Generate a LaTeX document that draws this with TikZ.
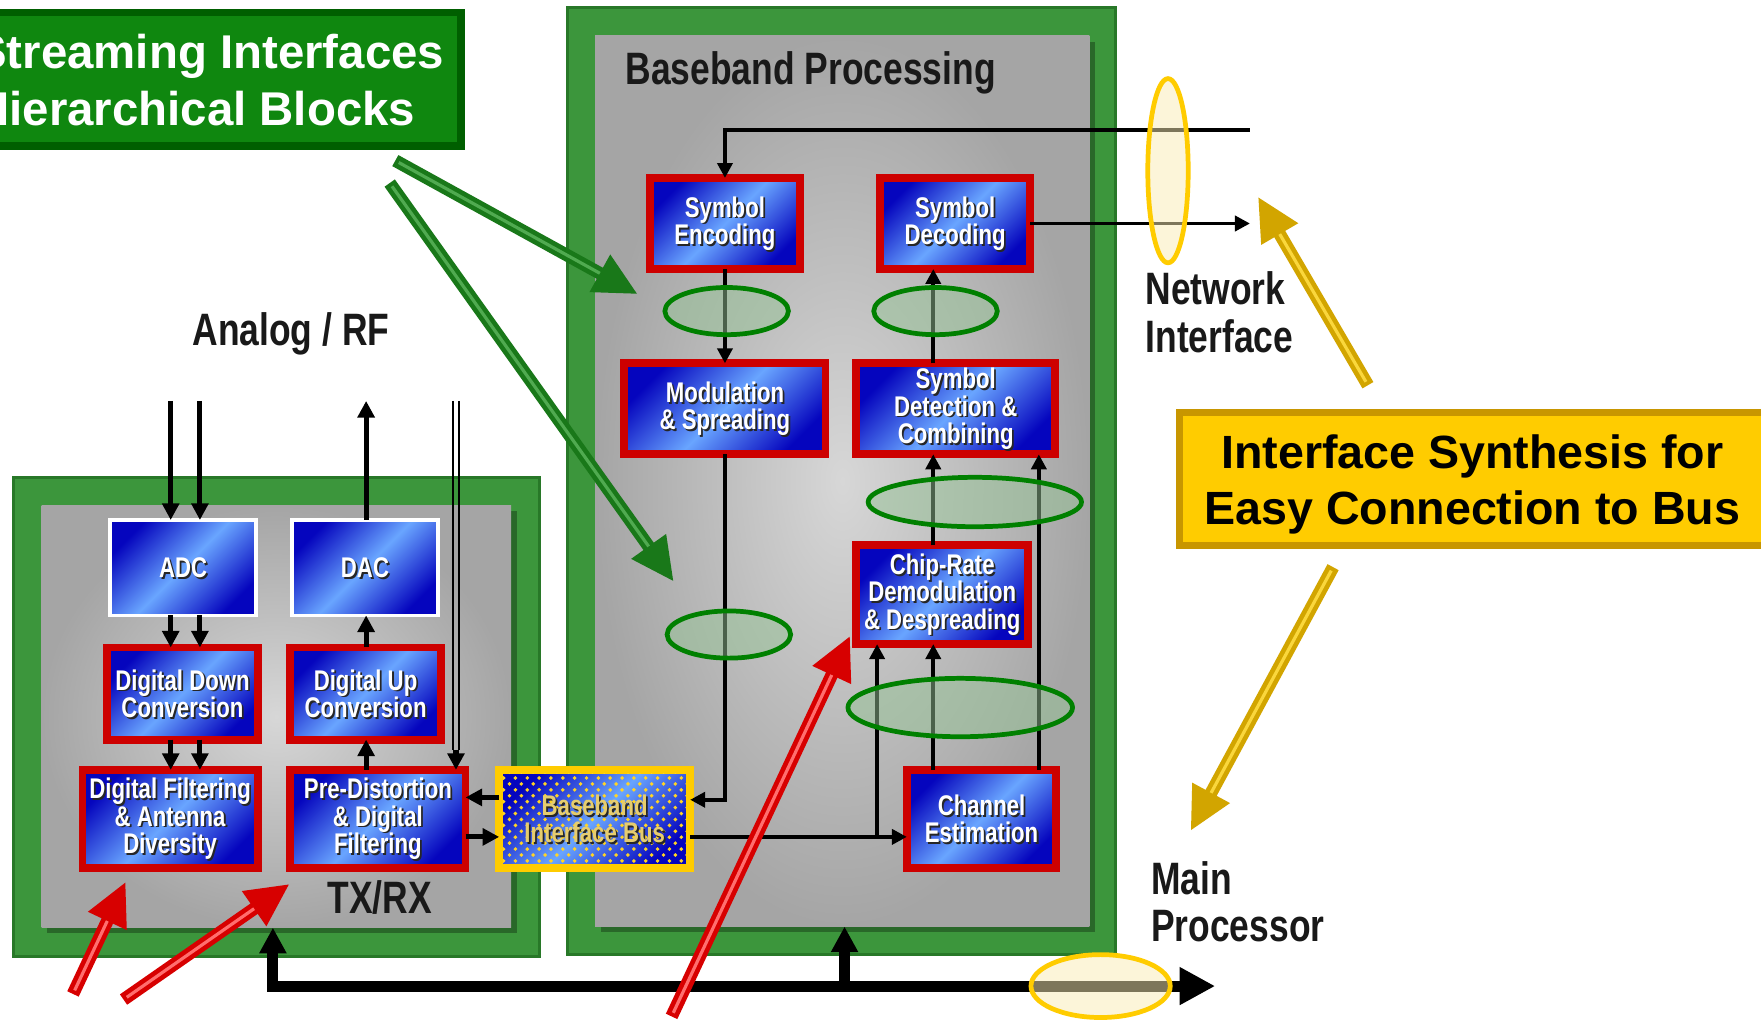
\documentclass[tikz,border=0pt]{standalone}
\usepackage{fontspec}
\setmainfont{Liberation Sans}
\newfontfamily\narrowsans{Liberation Sans}[FakeStretch=0.78]
\usetikzlibrary{arrows.meta,patterns}

\newlength\pxu
\setlength\pxu{0.01cm}

\definecolor{bDark}{RGB}{5,5,190}
\definecolor{bLight}{RGB}{105,165,255}
\definecolor{frameRed}{RGB}{205,0,0}
\definecolor{frameGreen}{RGB}{60,150,60}
\definecolor{frameGreenDark}{RGB}{40,120,40}
\definecolor{panelLight}{RGB}{215,215,215}
\definecolor{panelDark}{RGB}{165,165,165}
\definecolor{ovalGreen}{RGB}{0,128,0}
\definecolor{ovalFill}{RGB}{150,195,150}
\definecolor{busYellow}{RGB}{255,204,0}
\definecolor{ovalYellowFill}{RGB}{250,236,180}
\definecolor{titleGreen}{RGB}{15,135,15}
\definecolor{titleEdge}{RGB}{0,95,0}
\definecolor{noteYellow}{RGB}{255,204,0}
\definecolor{noteEdge}{RGB}{200,150,0}
\definecolor{arrowRed}{RGB}{215,0,0}
\definecolor{arrowRedLight}{RGB}{255,110,110}
\definecolor{arrowGreen}{RGB}{25,120,25}
\definecolor{arrowGreenLight}{RGB}{80,170,80}
\definecolor{arrowGold}{RGB}{210,165,0}
\definecolor{arrowGoldLight}{RGB}{250,215,60}
\definecolor{busText}{RGB}{230,205,110}

\tikzset{
  every node/.style={inner sep=0pt, outer sep=0pt},
  frame/.style={fill=frameGreen, draw=frameGreenDark, line width=0.8pt},
  panel/.style={inner color=panelLight, outer color=panelDark},
  blueshade/.style={top color=bDark, bottom color=bDark, middle color=bLight, shading angle=45},
  redblock/.style={blueshade, draw=frameRed, line width=2pt},
  whiteblock/.style={blueshade, draw=white, line width=0.8pt},
  busblock/.style={blueshade, draw=busYellow, line width=2pt},
  blocktext/.style={font=\narrowsans\bfseries\fontsize{7.2}{6.9}\selectfont, align=center},
  biglabel/.style={font=\narrowsans\bfseries\fontsize{11.5}{12}\selectfont, text=black!90},
  txarrow/.style={line width=1.3pt, -{Triangle[length=4.2pt,width=4.2pt]}},
  bbarrow/.style={line width=1pt, -{Triangle[length=3.8pt,width=3.8pt]}},
  thinline/.style={line width=0.55pt},
  bus/.style={line width=2.8pt},
  greenoval/.style={draw=ovalGreen, line width=1.2pt, fill=ovalFill, fill opacity=0.5},
  yellowoval/.style={draw=busYellow, line width=1.2pt, fill=ovalYellowFill, fill opacity=0.5},
}

% block: style, name, x, y, width, height, text
\newcommand\block[7]{%
  \node[#1, minimum width=#5*\pxu, minimum height=#6*\pxu] (#2) at (#3,#4) {};
  \node[blocktext, text=black!85, xshift=0.45pt, yshift=-0.45pt] at (#2.center) {#7};
  \node[blocktext, text=white] (#2-label) at (#2.center) {#7};
}

% shaded annotation arrow: dark colour, light colour, start, end
\newcommand\fatarrow[4]{%
  \draw[line width=3.2pt, draw=#1, -{Triangle[length=11pt,width=10pt]}] (#3) -- (#4);
  \draw[line width=0.8pt, draw=#2, shorten >=11pt, shorten <=1pt] (#3) -- (#4);
}

\begin{document}
\begin{tikzpicture}[x=0.01cm, y=-0.01cm]
\clip (0,0) rectangle (1568,909);
\fill[white] (0,0) rectangle (1568,909);

% ---- TX/RX subsystem ----
\node[frame, minimum width=468*\pxu, minimum height=427*\pxu] (TX) at (246,638.5) {};
\fill[black, opacity=0.3] (42,455) rectangle (460,831);
\node[panel, minimum width=418*\pxu, minimum height=376*\pxu] (TXin) at (246,638) {};

% ---- Baseband subsystem ----
\node[frame, minimum width=488*\pxu, minimum height=843*\pxu] (BB) at (749,428.5) {};
\fill[black, opacity=0.3] (535,37) rectangle (975,830);
\node[panel, minimum width=440*\pxu, minimum height=793*\pxu] (BBin) at (750,428.5) {};

% ---- labels ----
\node[biglabel, anchor=base west] (bbtitle) at (557,75) {Baseband Processing};
\node[biglabel, anchor=base] (analog) at (259,308) {Analog / RF};
\node[biglabel, anchor=base] (txrx) at (338,813) {TX/RX};
\node[biglabel, anchor=north west, align=left] (netlabel) at (1020,242) {Network\\Interface};
\node[biglabel, anchor=north west, align=left] (mainlabel) at (1025,767) {Main\\Processor};

% ---- blocks ----
\block{whiteblock}{ADC}{163}{505.5}{130}{85}{ADC}
\block{whiteblock}{DAC}{325}{505.5}{130}{85}{DAC}
\block{redblock}{DDC}{162.5}{617.5}{134}{82}{Digital Down\\Conversion}
\block{redblock}{DUC}{325.5}{617.5}{134}{82}{Digital Up\\Conversion}
\block{redblock}{DFA}{151.5}{729}{156}{87}{Digital Filtering\\\& Antenna\\Diversity}
\block{redblock}{PDF}{336.5}{729}{156}{87}{Pre-Distortion\\\& Digital\\Filtering}
\block{redblock}{SE}{645.5}{199}{134}{81}{Symbol\\Encoding}
\block{redblock}{SD}{850.5}{199}{134}{81}{Symbol\\Decoding}
\block{redblock}{MS}{645.5}{364}{179}{81}{Modulation\\\& Spreading}
\block{redblock}{SDC}{851}{364}{177}{81}{Symbol\\Detection \&\\Combining}
\block{redblock}{CRD}{839}{529.5}{153}{88}{Chip-Rate\\Demodulation\\\& Despreading}
\block{redblock}{CE}{874}{729}{133}{87}{Channel\\Estimation}

\node[busblock, minimum width=170*\pxu, minimum height=87*\pxu] (BIB) at (529.5,729) {};
\fill[pattern=crosshatch dots, pattern color=busYellow!85!white]
  ([shift={(1pt,-1pt)}]BIB.north west) rectangle ([shift={(-1pt,1pt)}]BIB.south east);
\node[blocktext, text=black!85, xshift=0.45pt, yshift=-0.45pt] at (BIB.center) {Baseband\\Interface Bus};
\node[blocktext, text=busText] (BIB-label) at (BIB.center) {Baseband\\Interface Bus};

% ---- connector end points ----
\coordinate (rfin1) at (152,357);
\coordinate (rfin2) at (178,357);
\coordinate (rfout) at (326,357);
\coordinate (rfd1) at (403,357);
\coordinate (rfd2) at (409,357);
\coordinate (dlend) at (406,668);
\coordinate (netin) at (1113,116);
\coordinate (netout) at (1113,204);
\coordinate (xa) at (831,0);
\coordinate (xb) at (925,0);
\coordinate (xc) at (781,0);
\coordinate (xl1) at (152,0);
\coordinate (xl2) at (178,0);
\coordinate (xr) at (326,0);
\coordinate (buscorner) at (243,878);
\coordinate (busend) at (1082,878);
\coordinate (busx2) at (752,0);

% ---- TX/RX connections ----
\draw[txarrow] (rfin1) -- (ADC.north -| rfin1);
\draw[txarrow] (rfin2) -- (ADC.north -| rfin2);
\draw[txarrow] (DAC.north -| rfout) -- (rfout);
\draw[thinline] (rfd1) -- (rfd1 |- dlend);
\draw[thinline] (rfd2) -- (rfd2 |- dlend);
\draw[txarrow] (dlend) -- (PDF.north -| dlend);
\draw[txarrow] (ADC.south -| xl1) -- (DDC.north -| xl1);
\draw[txarrow] (ADC.south -| xl2) -- (DDC.north -| xl2);
\draw[txarrow] (DUC.north -| xr) -- (DAC.south -| xr);
\draw[txarrow] (DDC.south -| xl1) -- (DFA.north -| xl1);
\draw[txarrow] (DDC.south -| xl2) -- (DFA.north -| xl2);
\draw[txarrow] (PDF.north -| xr) -- (DUC.south -| xr);
\coordinate (bibup) at ([yshift=5.4pt]BIB.west);
\coordinate (bibdn) at ([yshift=-4.6pt]BIB.west);
\draw[txarrow] (bibup) -- (bibup -| PDF.east);
\draw[txarrow] (bibdn -| PDF.east) -- (bibdn);

% ---- baseband connections ----
\draw[bbarrow] (netin) -| (SE.north);
\draw[bbarrow] (SD.east) -- (SD.east -| netout);
\draw[bbarrow] (SE.south) -- (SE.south |- MS.north);
\draw[bbarrow] (SDC.north -| xa) -- (SD.south -| xa);
\coordinate (bibin) at ([yshift=4.8pt]BIB.east);
\coordinate (bibout) at ([yshift=-4.6pt]BIB.east);
\draw[bbarrow] (MS.south) |- (bibin);
\draw[bbarrow] (bibout) -- (bibout -| CE.west);
\draw[bbarrow] (bibout -| xc) -- (CRD.south -| xc);
\draw[bbarrow] (CE.north -| xa) -- (CRD.south -| xa);
\draw[bbarrow] (CE.north -| xb) -- (SDC.south -| xb);
\draw[bbarrow] (CRD.north -| xa) -- (SDC.south -| xa);

% ---- streaming interface ovals ----
\draw[greenoval] (647,277) ellipse [x radius=55, y radius=21];
\draw[greenoval] (833,277) ellipse [x radius=55, y radius=21];
\draw[greenoval] (868,447) ellipse [x radius=95, y radius=22];
\draw[greenoval] (649,565) ellipse [x radius=55, y radius=21];
\draw[greenoval] (855,630) ellipse [x radius=100, y radius=26];
\draw[yellowoval] (1040,152) ellipse [x radius=18, y radius=82];

% ---- main processor bus ----
\draw[bus, {Triangle[length=6.5pt,width=6.5pt]}-{Triangle[length=9pt,width=9pt]}]
  (TXin.south -| buscorner) -- (buscorner) -- (busend);
\draw[bus, -{Triangle[length=6.5pt,width=6.5pt]}] (busx2 |- buscorner) -- (BBin.south -| busx2);
\draw[yellowoval] (980,878) ellipse [x radius=62, y radius=28];

% ---- annotation arrows ----
\coordinate (g1s) at (352,143); \coordinate (g1e) at (568,262);
\coordinate (g2s) at (347,163); \coordinate (g2e) at (600,518);
\coordinate (r1s) at (65,885);  \coordinate (r1e) at (112,785);
\coordinate (r2s) at (110,890); \coordinate (r2e) at (258,787);
\coordinate (r3s) at (598,905); \coordinate (r3e) at (757,566);
\coordinate (y1s) at (1218,343); \coordinate (y1e) at (1120,175);
\coordinate (y2s) at (1187,505); \coordinate (y2e) at (1060,740);
\fatarrow{arrowGreen}{arrowGreenLight}{g1s}{g1e}
\fatarrow{arrowGreen}{arrowGreenLight}{g2s}{g2e}
\fatarrow{arrowRed}{arrowRedLight}{r1s}{r1e}
\fatarrow{arrowRed}{arrowRedLight}{r2s}{r2e}
\fatarrow{arrowRed}{arrowRedLight}{r3s}{r3e}
\fatarrow{arrowGold}{arrowGoldLight}{y1s}{y1e}
\fatarrow{arrowGold}{arrowGoldLight}{y2s}{y2e}

% ---- callout boxes ----
\node[fill=titleGreen, draw=titleEdge, line width=1.8pt,
      minimum width=425*\pxu, minimum height=119*\pxu] (title) at (198,70.5) {};
\node[font=\bfseries\fontsize{12}{14.5}\selectfont, text=white, align=left, anchor=north west]
  (titletext) at (-22,30) {Streaming Interfaces\\Hierarchical Blocks};
\node[fill=noteYellow, draw=noteEdge, line width=1.8pt,
      minimum width=530*\pxu, minimum height=119*\pxu] (note) at (1315,426.5) {};
\node[font=\bfseries\fontsize{11.8}{14.2}\selectfont, align=center, anchor=north]
  (notetext) at (1311,387) {Interface Synthesis for\\Easy Connection to Bus};
\end{tikzpicture}
\end{document}
